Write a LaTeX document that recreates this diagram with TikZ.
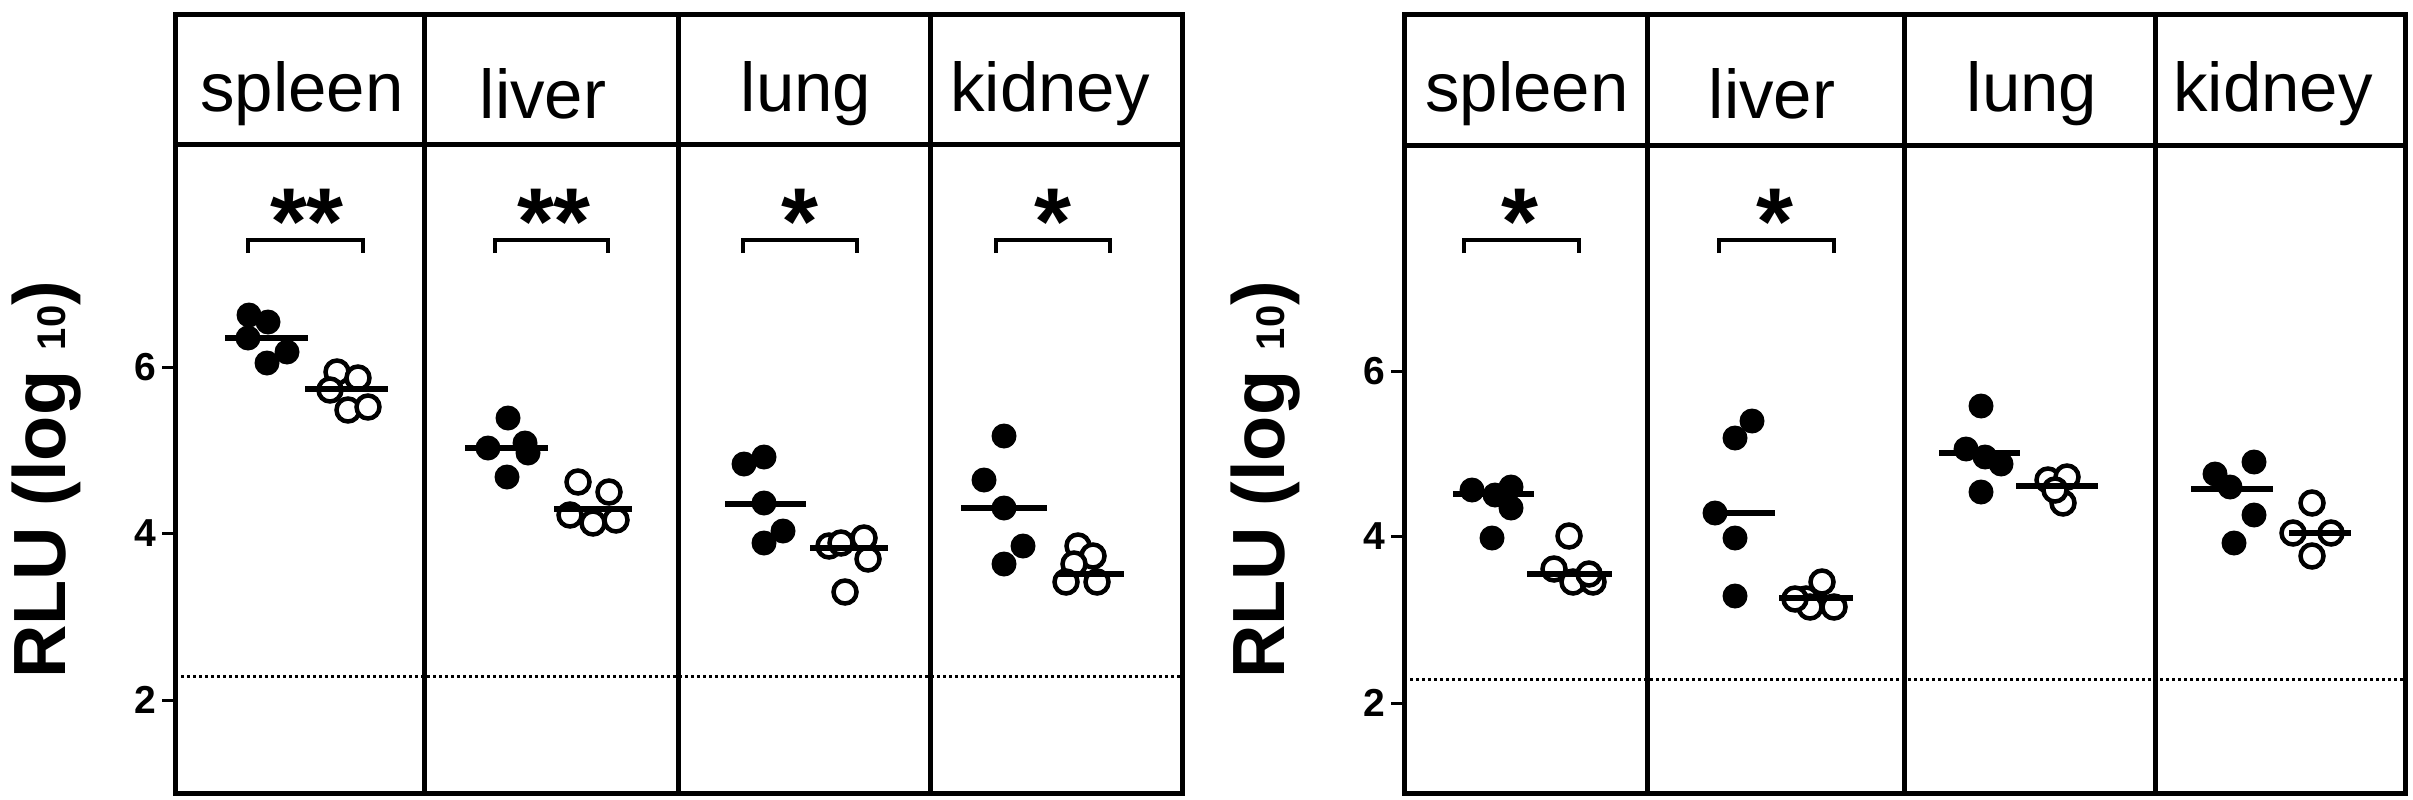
\documentclass[tikz,border=0pt]{standalone}
\usepackage{fontspec}
\setmainfont{Liberation Sans}
\begin{document}
\begin{tikzpicture}[x=1pt,y=-1pt,
  frame/.style={line width=5pt},
  med/.style={line width=6pt},
  brk/.style={line width=4pt},
  dots/.style={line width=3pt,dash pattern=on 3pt off 3pt},
  filled/.style={fill=black},
  open/.style={draw=black,fill=white,line width=4.5pt},
  organ/.style={font=\fontsize{69}{80}\selectfont},
  tick/.style={font=\fontsize{39}{45}\selectfont\bfseries,anchor=east},
  star/.style={font=\fontsize{95}{100}\selectfont\bfseries},
  ylab/.style={font=\fontsize{74}{80}\selectfont\bfseries,rotate=90}]
\useasboundingbox (0,0) rectangle (2413,800);
% ---------- left panel
\draw[frame] (175,15) rectangle (1182,793);
\draw[frame] (175,144) -- (1182,144);
\foreach \x in {424,678,930} \draw[frame] (\x,15) -- (\x,793);
\draw[dots] (175,676) -- (1182,676);
\foreach \v/\y in {6/367,4/533,2/700}{\draw[line width=3pt] (162,\y) -- (175,\y); \node[tick] at (160,\y) {\v};}
\node[ylab] at (47,480) {RLU (log {\fontsize{40}{40}\selectfont 10})};
\node[organ] at (302,94) {spleen};
\node[organ] at (543,94) {liver};
\node[organ] at (806,94) {lung};
\node[organ] at (1050,94) {kidney};
\draw[brk] (248,253) -- (248,240) -- (363,240) -- (363,253);
\draw[brk] (495,253) -- (495,240) -- (608,240) -- (608,253);
\draw[brk] (743,253) -- (743,240) -- (857,240) -- (857,253);
\draw[brk] (996,253) -- (996,240) -- (1110,240) -- (1110,253);
\node[star] at (307,222) {**};
\node[star] at (554,222) {**};
\node[star] at (800,222) {*};
\node[star] at (1053,222) {*};
% spleen
\foreach \p in {(249,315),(268,322),(248,338),(287,352),(267,363)} \fill \p circle (12.5);
\draw[med] (225,338) -- (308,338);
\foreach \p in {(337,372),(358,378),(330,390),(348,410),(368,407)} \draw[open] \p circle (11.5);
\draw[med] (305,389) -- (388,389);
% liver
\foreach \p in {(508,418),(488,448),(525,443),(528,453),(507,477)} \fill \p circle (12.5);
\draw[med] (465,448) -- (548,448);
\foreach \p in {(578,482),(609,492),(570,515),(593,523),(616,520)} \draw[open] \p circle (11.5);
\draw[med] (554,509) -- (632,509);
% lung
\foreach \p in {(744,464),(764,457),(764,503),(783,531),(764,543)} \fill \p circle (12.5);
\draw[med] (725,504) -- (806,504);
\foreach \p in {(829,546),(864,538),(868,559),(845,592),(841,543)} \draw[open] \p circle (11.5);
\draw[med] (810,548) -- (888,548);
% kidney
\foreach \p in {(1004,436),(984,480),(1004,508),(1023,546),(1004,564)} \fill \p circle (12.5);
\draw[med] (961,508) -- (1047,508);
\foreach \p in {(1078,546),(1093,556),(1074,564),(1066,582),(1097,582)} \draw[open] \p circle (11.5);
\draw[med] (1058,574) -- (1124,574);
% ---------- right panel
\draw[frame] (1404,15) rectangle (2405,793);
\draw[frame] (1404,145) -- (2405,145);
\foreach \x in {1647,1904,2155} \draw[frame] (\x,15) -- (\x,793);
\draw[dots] (1404,679) -- (2405,679);
\foreach \v/\y in {6/371,4/536,2/703}{\draw[line width=3pt] (1391,\y) -- (1404,\y); \node[tick] at (1389,\y) {\v};}
\node[ylab] at (1266,480) {RLU (log {\fontsize{40}{40}\selectfont 10})};
\node[organ] at (1527,94) {spleen};
\node[organ] at (1772,94) {liver};
\node[organ] at (2032,94) {lung};
\node[organ] at (2273,94) {kidney};
\draw[brk] (1464,253) -- (1464,240) -- (1579,240) -- (1579,253);
\draw[brk] (1719,253) -- (1719,240) -- (1834,240) -- (1834,253);
\node[star] at (1520,222) {*};
\node[star] at (1775,222) {*};
% spleen
\foreach \p in {(1472,490),(1511,487),(1495,495),(1511,508),(1492,538)} \fill \p circle (12.5);
\draw[med] (1453,494) -- (1534,494);
\foreach \p in {(1569,536),(1554,569),(1573,582),(1593,582),(1589,574)} \draw[open] \p circle (11.5);
\draw[med] (1527,574) -- (1612,574);
% liver
\foreach \p in {(1752,421),(1735,438),(1715,513),(1735,538),(1735,596)} \fill \p circle (12.5);
\draw[med] (1717,513) -- (1775,513);
\foreach \p in {(1806,599),(1822,582),(1834,607),(1810,607),(1795,599)} \draw[open] \p circle (11.5);
\draw[med] (1779,598) -- (1853,598);
% lung
\foreach \p in {(1981,406),(1966,449),(2001,464),(1981,492),(1985,457)} \fill \p circle (12.5);
\draw[med] (1939,453) -- (2020,453);
\foreach \p in {(2048,480),(2067,477),(2063,503),(2055,490)} \draw[open] \p circle (11.5);
\draw[med] (2016,486) -- (2098,486);
% kidney
\foreach \p in {(2215,474),(2254,462),(2230,487),(2254,515),(2234,543)} \fill \p circle (12.5);
\draw[med] (2191,489) -- (2273,489);
\foreach \p in {(2312,503),(2293,533),(2331,533),(2312,556)} \draw[open] \p circle (11.5);
\draw[med] (2289,533) -- (2351,533);
\end{tikzpicture}
\end{document}
